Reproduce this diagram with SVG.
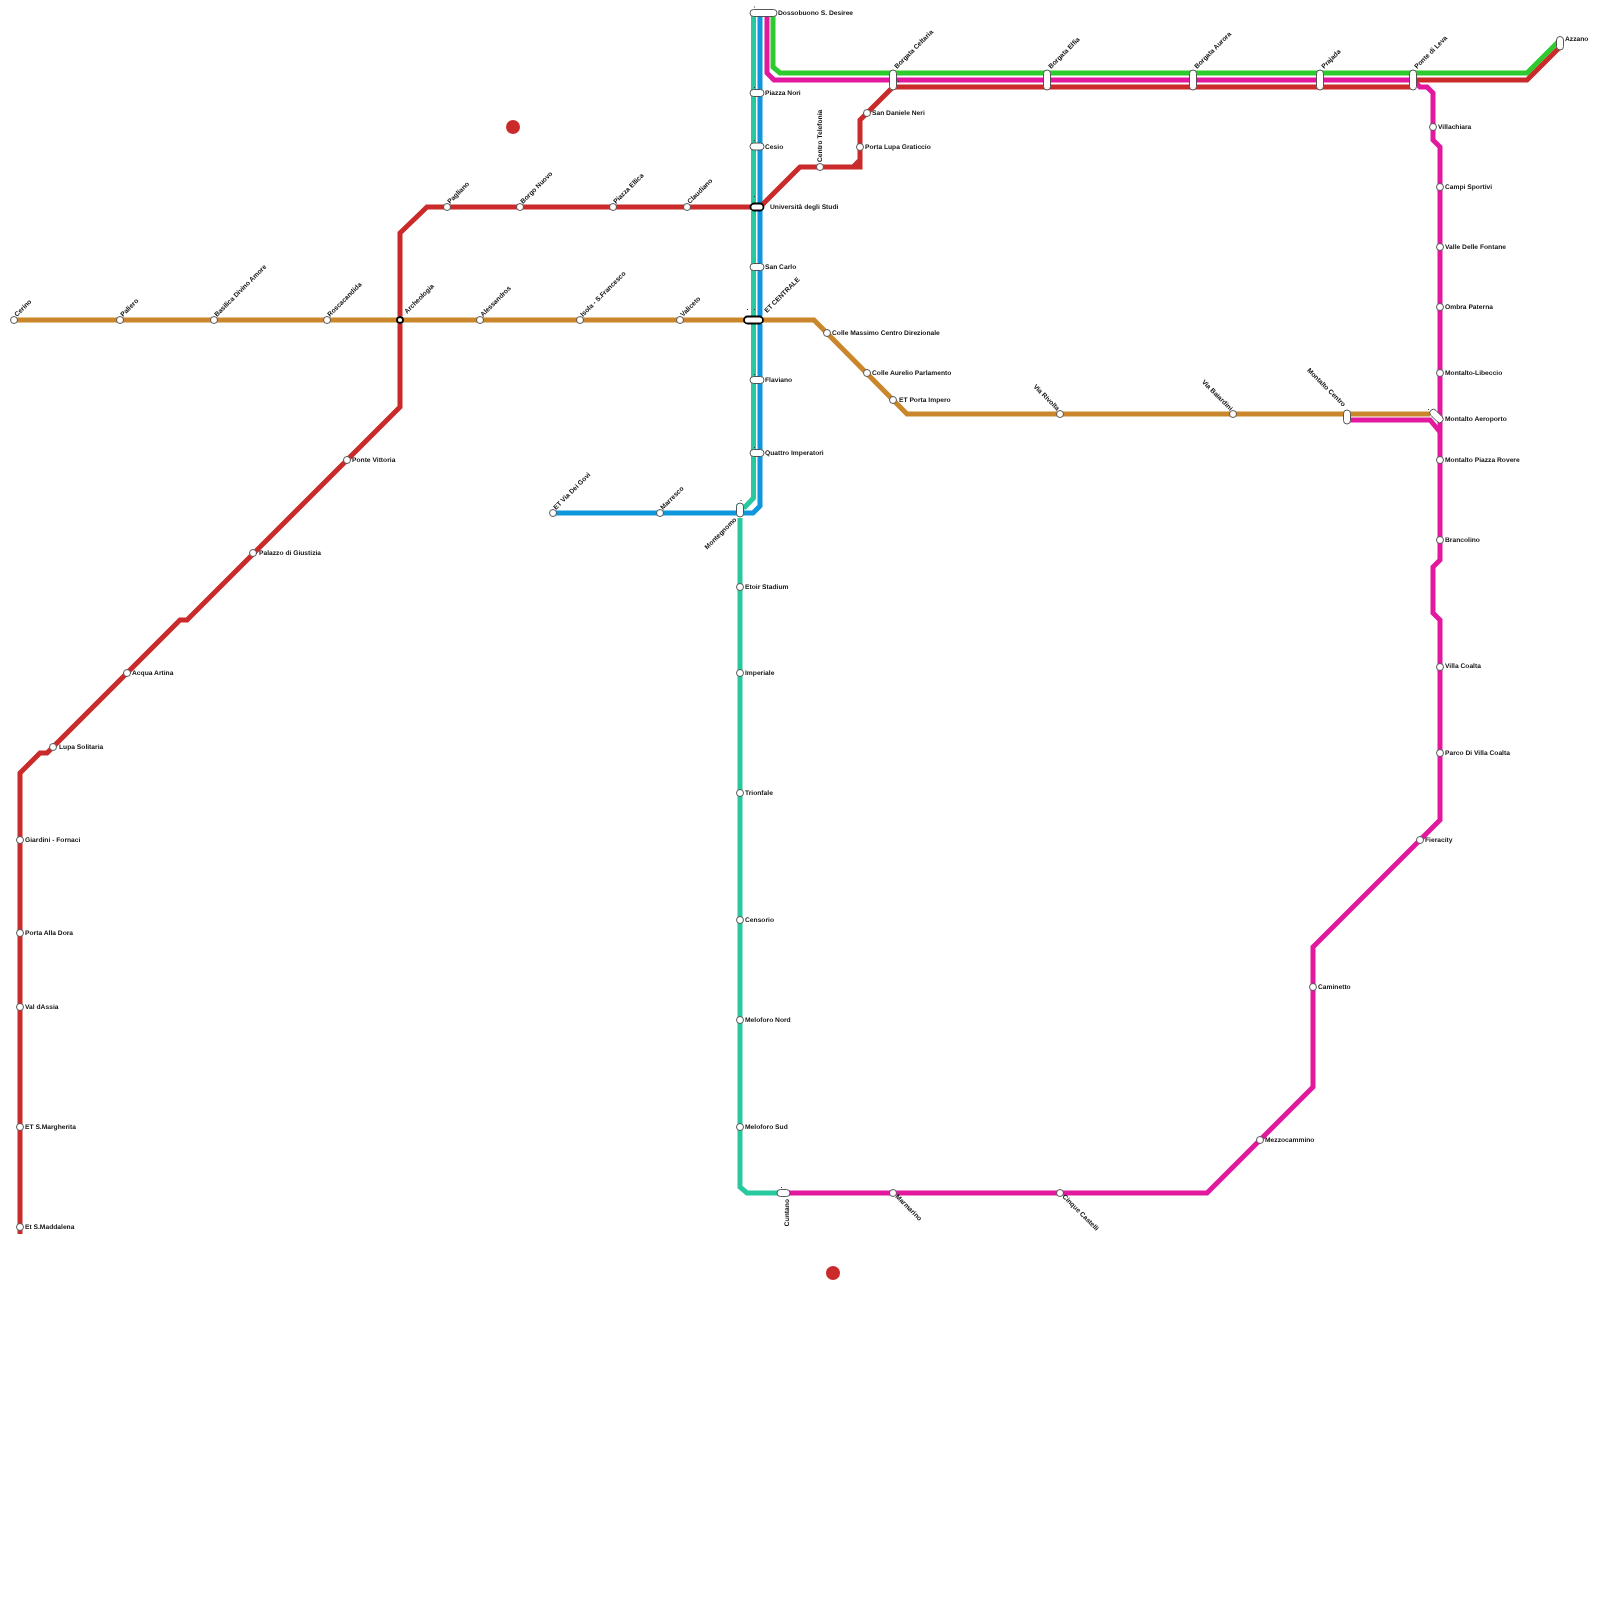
<svg xmlns="http://www.w3.org/2000/svg" width="1600" height="1600" viewBox="0 0 1600 1600">
<style>
.l{fill:none;stroke-width:5;stroke-linejoin:miter;stroke-linecap:butt}
.c{fill:none;stroke:#fff;stroke-width:8}
.s{fill:#fff;stroke:#444;stroke-width:.9}
.b{fill:#fff;stroke:#000;stroke-width:1.8}
text{font-family:"Liberation Sans",Arial,sans-serif;font-weight:bold;font-size:6.7px;fill:#111;text-rendering:geometricPrecision}
</style>
<g id="connectors">
<path class="l" stroke="#29c9a0" d="M753.500 13V498L745 507H736M740 518V1187L747 1193H785"/>
<path class="l" stroke="#0e97dc" d="M760 13V506L753 513H553"/>
<path class="l" stroke="#e2189e" d="M767 13V73L774 80H1413L1420 87H1427L1433 93V140L1440 147V560L1433 567V613L1440 620V820L1313 947V1087L1207 1193H780"/>
<path class="l" stroke="#e2189e" d="M1347 420H1430L1440 432"/>
<path class="l" stroke="#2dcb2d" d="M773 13V67L780 73H1527L1560 40"/>
<path class="c" d="M737 207H758"/>
<path class="l" stroke="#cb2a2a" d="M20 1234V773L40 753H47L180 620H187L400 407V233L427 207H760L800 167H860M853 167L860 160M860 169.500V120L893 87H1413M1413 80H1527L1560 47"/>
<path class="c" d="M390 320H410M735 320H770"/>
<path class="l" stroke="#c9862a" d="M14 320H814L907 414H1430"/>
</g>
<g id="red-dots" fill="#cb2a2a"><circle cx="513" cy="127" r="7"/><circle cx="833" cy="1273" r="7"/></g>
<g id="ticks" fill="#333"><rect x="754" y="6.500" width="1" height="1"/><rect x="754" y="87" width="1" height="1"/><rect x="754" y="140" width="1" height="1"/><rect x="754" y="196" width="1" height="1"/><rect x="747" y="309" width="1" height="1"/><rect x="754" y="309" width="1" height="1"/><rect x="754" y="374" width="1" height="1"/><rect x="754" y="447" width="1" height="1"/><rect x="740.500" y="500" width="1" height="1"/><rect x="781" y="1187" width="1" height="1"/><rect x="1428" y="409" width="1" height="1"/><rect x="898" y="81" width="1" height="1"/></g>
<g id="stations" opacity="0.995">
<g id="st-dossobuono"><rect class="s" x="750" y="9.500" width="27" height="7" rx="3.500"/><text x="778" y="15">Dossobuono S. Desiree</text></g>
<g id="st-piazza-nori"><rect class="s" x="750" y="89.500" width="14" height="7" rx="3.500"/><text x="765" y="95">Piazza Nori</text></g>
<g id="st-cesio"><rect class="s" x="750" y="143" width="14" height="7" rx="3.500"/><text x="765" y="149">Cesio</text></g>
<g id="st-universita"><rect class="b" x="750.500" y="203.500" width="13" height="7" rx="3.500"/><text x="770" y="208.500">Università degli Studi</text></g>
<g id="st-san-carlo"><rect class="s" x="750" y="263.500" width="14" height="7" rx="3.500"/><text x="765" y="268.500">San Carlo</text></g>
<g id="st-et-centrale"><rect class="b" x="744" y="316.500" width="19" height="7" rx="3.500"/><text transform="translate(767 313) rotate(-45)">ET CENTRALE</text></g>
<g id="st-flaviano"><rect class="s" x="750" y="376.500" width="14" height="7" rx="3.500"/><text x="765" y="381.500">Flaviano</text></g>
<g id="st-quattro"><rect class="s" x="750" y="449.500" width="14" height="7" rx="3.500"/><text x="765" y="455">Quattro Imperatori</text></g>
<g id="st-montegnomo"><rect class="s" x="736.500" y="503" width="7" height="14" rx="3.500"/><text transform="translate(737 520) rotate(-45)" text-anchor="end">Montegnomo</text></g>
<g id="st-cuntano"><rect class="s" x="777" y="1189.500" width="13" height="7" rx="3.500"/><text transform="translate(788.500 1199) rotate(-90)" text-anchor="end">Cuntano</text></g>
<g id="st-azzano"><rect class="s" x="1556.500" y="36.500" width="7" height="13.500" rx="3.500"/><text x="1565" y="41">Azzano</text></g>
<g id="st-aeroporto"><rect class="s" x="1428.500" y="412.500" width="16" height="7" rx="3.500" transform="rotate(45 1436.500 416)"/><text x="1445" y="421">Montalto Aeroporto</text></g>
<g id="st-montalto-centro"><rect class="s" x="1343.500" y="410" width="7" height="14" rx="3.500"/><text transform="translate(1343 407) rotate(45)" text-anchor="end">Montalto Centro</text></g>
<g id="st-celtaria"><rect class="s" x="889.500" y="70" width="7" height="20" rx="3.500"/><text transform="translate(897 69) rotate(-45)">Borgata Celtaria</text></g>
<g id="st-elfia"><rect class="s" x="1043.500" y="70" width="7" height="20" rx="3.500"/><text transform="translate(1051 69) rotate(-45)">Borgata Elfia</text></g>
<g id="st-aurora"><rect class="s" x="1189.500" y="70" width="7" height="20" rx="3.500"/><text transform="translate(1197 69) rotate(-45)">Borgata Aurora</text></g>
<g id="st-prajada"><rect class="s" x="1316.500" y="70" width="7" height="20" rx="3.500"/><text transform="translate(1324 69) rotate(-45)">Prajada</text></g>
<g id="st-ponte-leva"><rect class="s" x="1409.500" y="70" width="7" height="20" rx="3.500"/><text transform="translate(1417 69) rotate(-45)">Ponte di Leva</text></g>
<g id="st-cerino"><circle class="s" cx="14" cy="320" r="3.500"/><text transform="translate(17 317) rotate(-45)">Cerino</text></g>
<g id="st-paliero"><circle class="s" cx="120" cy="320" r="3.500"/><text transform="translate(123 317) rotate(-45)">Paliero</text></g>
<g id="st-basilica"><circle class="s" cx="214" cy="320" r="3.500"/><text transform="translate(217 317) rotate(-45)">Basilica Divino Amore</text></g>
<g id="st-roscacandida"><circle class="s" cx="327" cy="320" r="3.500"/><text transform="translate(330 317) rotate(-45)">Roscacandida</text></g>
<g id="st-archeologia"><circle class="b" cx="400" cy="320" r="3"/><text transform="translate(407 314) rotate(-45)">Archeologia</text></g>
<g id="st-alessandros"><circle class="s" cx="480" cy="320" r="3.500"/><text transform="translate(483 317) rotate(-45)">Alessandros</text></g>
<g id="st-isola"><circle class="s" cx="580" cy="320" r="3.500"/><text transform="translate(583 317) rotate(-45)">Isola - S.Francesco</text></g>
<g id="st-valiceto"><circle class="s" cx="680" cy="320" r="3.500"/><text transform="translate(683 317) rotate(-45)">Valiceto</text></g>
<g id="st-pagliano"><circle class="s" cx="447" cy="207" r="3.500"/><text transform="translate(450 204) rotate(-45)">Pagliano</text></g>
<g id="st-borgo-nuovo"><circle class="s" cx="520" cy="207" r="3.500"/><text transform="translate(523 204) rotate(-45)">Borgo Nuovo</text></g>
<g id="st-piazza-ellica"><circle class="s" cx="613" cy="207" r="3.500"/><text transform="translate(616 204) rotate(-45)">Piazza Ellica</text></g>
<g id="st-claudiano"><circle class="s" cx="687" cy="207" r="3.500"/><text transform="translate(690 204) rotate(-45)">Claudiano</text></g>
<g id="st-centro-telefonia"><circle class="s" cx="820" cy="167" r="3.500"/><text transform="translate(822 162) rotate(-90)">Centro Telefonia</text></g>
<g id="st-porta-lupa"><circle class="s" cx="860" cy="147" r="3.500"/><text x="865" y="148.500">Porta Lupa Graticcio</text></g>
<g id="st-san-daniele"><circle class="s" cx="867" cy="113" r="3.500"/><text x="872" y="115">San Daniele Neri</text></g>
<g id="st-colle-massimo"><circle class="s" cx="827" cy="333" r="3.500"/><text x="832" y="335">Colle Massimo Centro Direzionale</text></g>
<g id="st-colle-aurelio"><circle class="s" cx="867" cy="373" r="3.500"/><text x="872" y="375">Colle Aurelio Parlamento</text></g>
<g id="st-porta-impero"><circle class="s" cx="893" cy="400" r="3.500"/><text x="899" y="401.500">ET Porta Impero</text></g>
<g id="st-via-rivolta"><circle class="s" cx="1060" cy="414" r="3.500"/><text transform="translate(1057 411) rotate(45)" text-anchor="end">Via Rivolta</text></g>
<g id="st-via-baiardini"><circle class="s" cx="1233" cy="414" r="3.500"/><text transform="translate(1230 411) rotate(45)" text-anchor="end">Via Baiardini</text></g>
<g id="st-villachiara"><circle class="s" cx="1433" cy="127" r="3.500"/><text x="1438" y="128.500">Villachiara</text></g>
<g id="st-campi"><circle class="s" cx="1440" cy="187" r="3.500"/><text x="1445" y="188.500">Campi Sportivi</text></g>
<g id="st-valle"><circle class="s" cx="1440" cy="247" r="3.500"/><text x="1445" y="248.500">Valle Delle Fontane</text></g>
<g id="st-ombra"><circle class="s" cx="1440" cy="307" r="3.500"/><text x="1445" y="308.500">Ombra Paterna</text></g>
<g id="st-libeccio"><circle class="s" cx="1440" cy="373" r="3.500"/><text x="1445" y="375">Montalto-Libeccio</text></g>
<g id="st-rovere"><circle class="s" cx="1440" cy="460" r="3.500"/><text x="1445" y="462">Montalto Piazza Rovere</text></g>
<g id="st-brancolino"><circle class="s" cx="1440" cy="540" r="3.500"/><text x="1445" y="541.500">Brancolino</text></g>
<g id="st-villa-coalta"><circle class="s" cx="1440" cy="667" r="3.500"/><text x="1445" y="668">Villa Coalta</text></g>
<g id="st-parco"><circle class="s" cx="1440" cy="753" r="3.500"/><text x="1445" y="755">Parco Di Villa Coalta</text></g>
<g id="st-fieracity"><circle class="s" cx="1420" cy="840" r="3.500"/><text x="1425" y="842">Fieracity</text></g>
<g id="st-caminetto"><circle class="s" cx="1313" cy="987" r="3.500"/><text x="1318" y="988.500">Caminetto</text></g>
<g id="st-mezzocammino"><circle class="s" cx="1260" cy="1140" r="3.500"/><text x="1265" y="1141.500">Mezzocammino</text></g>
<g id="st-cinque"><circle class="s" cx="1060" cy="1193" r="3.500"/><text transform="translate(1062 1197) rotate(45)">Cinque Castelli</text></g>
<g id="st-marmarino"><circle class="s" cx="893" cy="1193" r="3.500"/><text transform="translate(895 1197) rotate(45)">Marmarino</text></g>
<g id="st-etoir"><circle class="s" cx="740" cy="587" r="3.500"/><text x="745" y="588.500">Etoir Stadium</text></g>
<g id="st-imperiale"><circle class="s" cx="740" cy="673" r="3.500"/><text x="745" y="675">Imperiale</text></g>
<g id="st-trionfale"><circle class="s" cx="740" cy="793" r="3.500"/><text x="745" y="795">Trionfale</text></g>
<g id="st-censorio"><circle class="s" cx="740" cy="920" r="3.500"/><text x="745" y="921.500">Censorio</text></g>
<g id="st-meloforo-nord"><circle class="s" cx="740" cy="1020" r="3.500"/><text x="745" y="1021.500">Meloforo Nord</text></g>
<g id="st-meloforo-sud"><circle class="s" cx="740" cy="1127" r="3.500"/><text x="745" y="1128.500">Meloforo Sud</text></g>
<g id="st-marresco"><circle class="s" cx="660" cy="513" r="3.500"/><text transform="translate(663 510) rotate(-45)">Marresco</text></g>
<g id="st-via-govi"><circle class="s" cx="553" cy="513" r="3.500"/><text transform="translate(556 510) rotate(-45)">ET Via Dei Govi</text></g>
<g id="st-maddalena"><circle class="s" cx="20" cy="1227" r="3.500"/><text x="25" y="1228.500">Et S.Maddalena</text></g>
<g id="st-margherita"><circle class="s" cx="20" cy="1127" r="3.500"/><text x="25" y="1128.500">ET S.Margherita</text></g>
<g id="st-val-dassia"><circle class="s" cx="20" cy="1007" r="3.500"/><text x="25" y="1008.500">Val dAssia</text></g>
<g id="st-porta-dora"><circle class="s" cx="20" cy="933" r="3.500"/><text x="25" y="934.500">Porta Alla Dora</text></g>
<g id="st-giardini"><circle class="s" cx="20" cy="840" r="3.500"/><text x="25" y="841.500">Giardini - Fornaci</text></g>
<g id="st-lupa"><circle class="s" cx="53" cy="747" r="3.500"/><text x="59" y="748.500">Lupa Solitaria</text></g>
<g id="st-acqua"><circle class="s" cx="127" cy="673" r="3.500"/><text x="132" y="675">Acqua Artina</text></g>
<g id="st-palazzo"><circle class="s" cx="253" cy="553" r="3.500"/><text x="259" y="554.500">Palazzo di Giustizia</text></g>
<g id="st-ponte-vittoria"><circle class="s" cx="347" cy="460" r="3.500"/><text x="352" y="461.500">Ponte Vittoria</text></g>
</g>
</svg>
